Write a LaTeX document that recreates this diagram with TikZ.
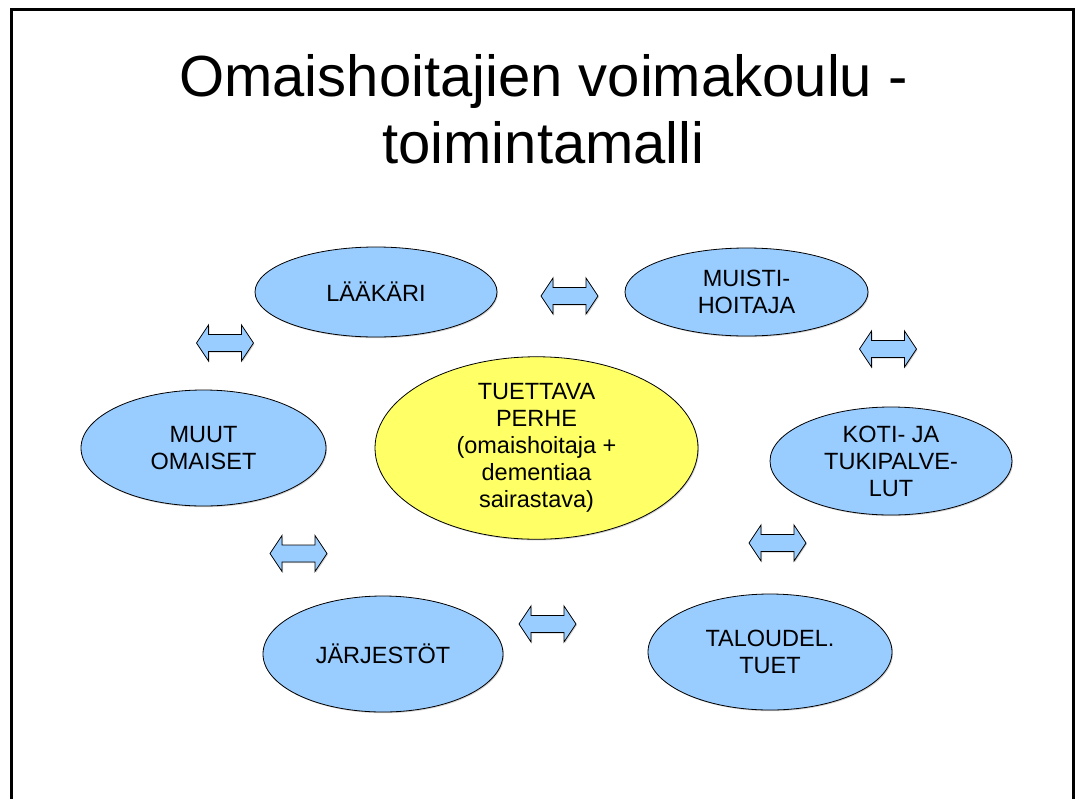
\documentclass[tikz,border=0pt]{standalone}
\usepackage{fontspec}
\setmainfont{Liberation Sans}
\usetikzlibrary{shapes.geometric,shadows}
\definecolor{ellblue}{HTML}{99CCFF}
\definecolor{ellyellow}{HTML}{FFFF66}
\tikzset{
  softshadow/.style={drop shadow={shadow xshift=1pt, shadow yshift=-1.2pt, fill=black!35, opacity=0.5}},
  bubble/.style={ellipse, draw=black, line width=0.8pt, fill=ellblue, inner sep=0pt,
    align=center, font=\fontsize{23.5}{27}\selectfont, softshadow},
  centerbubble/.style={bubble, fill=ellyellow},
  titletext/.style={font=\fontsize{58}{67}\selectfont, inner sep=0pt, anchor=base},
  arr/.style={draw=black, line width=0.8pt, fill=ellblue, line join=miter, softshadow}
}
\newcommand\dblarr[2]{%
  \path[arr, shift={(#1,#2)}] (-28.5,0) -- (-16.5,-18) -- (-16.5,-8.5) -- (16.5,-8.5)
    -- (16.5,-18) -- (28.5,0) -- (16.5,18) -- (16.5,8.5) -- (-16.5,8.5) -- (-16.5,18) -- cycle;}
\begin{document}
\begin{tikzpicture}[x=1pt,y=-1pt]
\useasboundingbox (0,0) rectangle (1075,798);
\fill[white] (0,0) rectangle (1075,798);
\draw[line width=3pt, line join=miter] (11.3,800) -- (11.3,9.7) -- (1073.5,9.7) -- (1073.5,800);

\node[titletext] (title1) at (543.5,96) {Omaishoitajien voimakoulu -};
\node[titletext] (title2) at (543.5,163) {toimintamalli};

\node[bubble, minimum width=242pt, minimum height=90pt] (laakari) at (376,292) {LÄÄKÄRI};
\node[bubble, minimum width=243pt, minimum height=88pt] (muisti) at (746.5,292) {MUISTI-\\HOITAJA};
\node[bubble, minimum width=245pt, minimum height=116pt] (muut) at (203.5,448) {MUUT\\OMAISET};
\node[bubble, minimum width=242pt, minimum height=108pt] (koti) at (891,461) {KOTI- JA\\TUKIPALVE-\\LUT};
\node[bubble, minimum width=240pt, minimum height=116pt] (jarj) at (383,654) {JÄRJESTÖT};
\node[bubble, minimum width=244pt, minimum height=116pt] (talous) at (770,652) {TALOUDEL.\\TUET};
\node[centerbubble, minimum width=323pt, minimum height=156pt] (perhe) at (536.5,448)
  {TUETTAVA\\PERHE\\(omaishoitaja +\\dementiaa\\sairastava)};

\dblarr{569.5}{296}
\dblarr{225}{343}
\dblarr{888}{349}
\dblarr{777.5}{543}
\dblarr{298.5}{553.5}
\dblarr{547.5}{624}
\end{tikzpicture}
\end{document}
